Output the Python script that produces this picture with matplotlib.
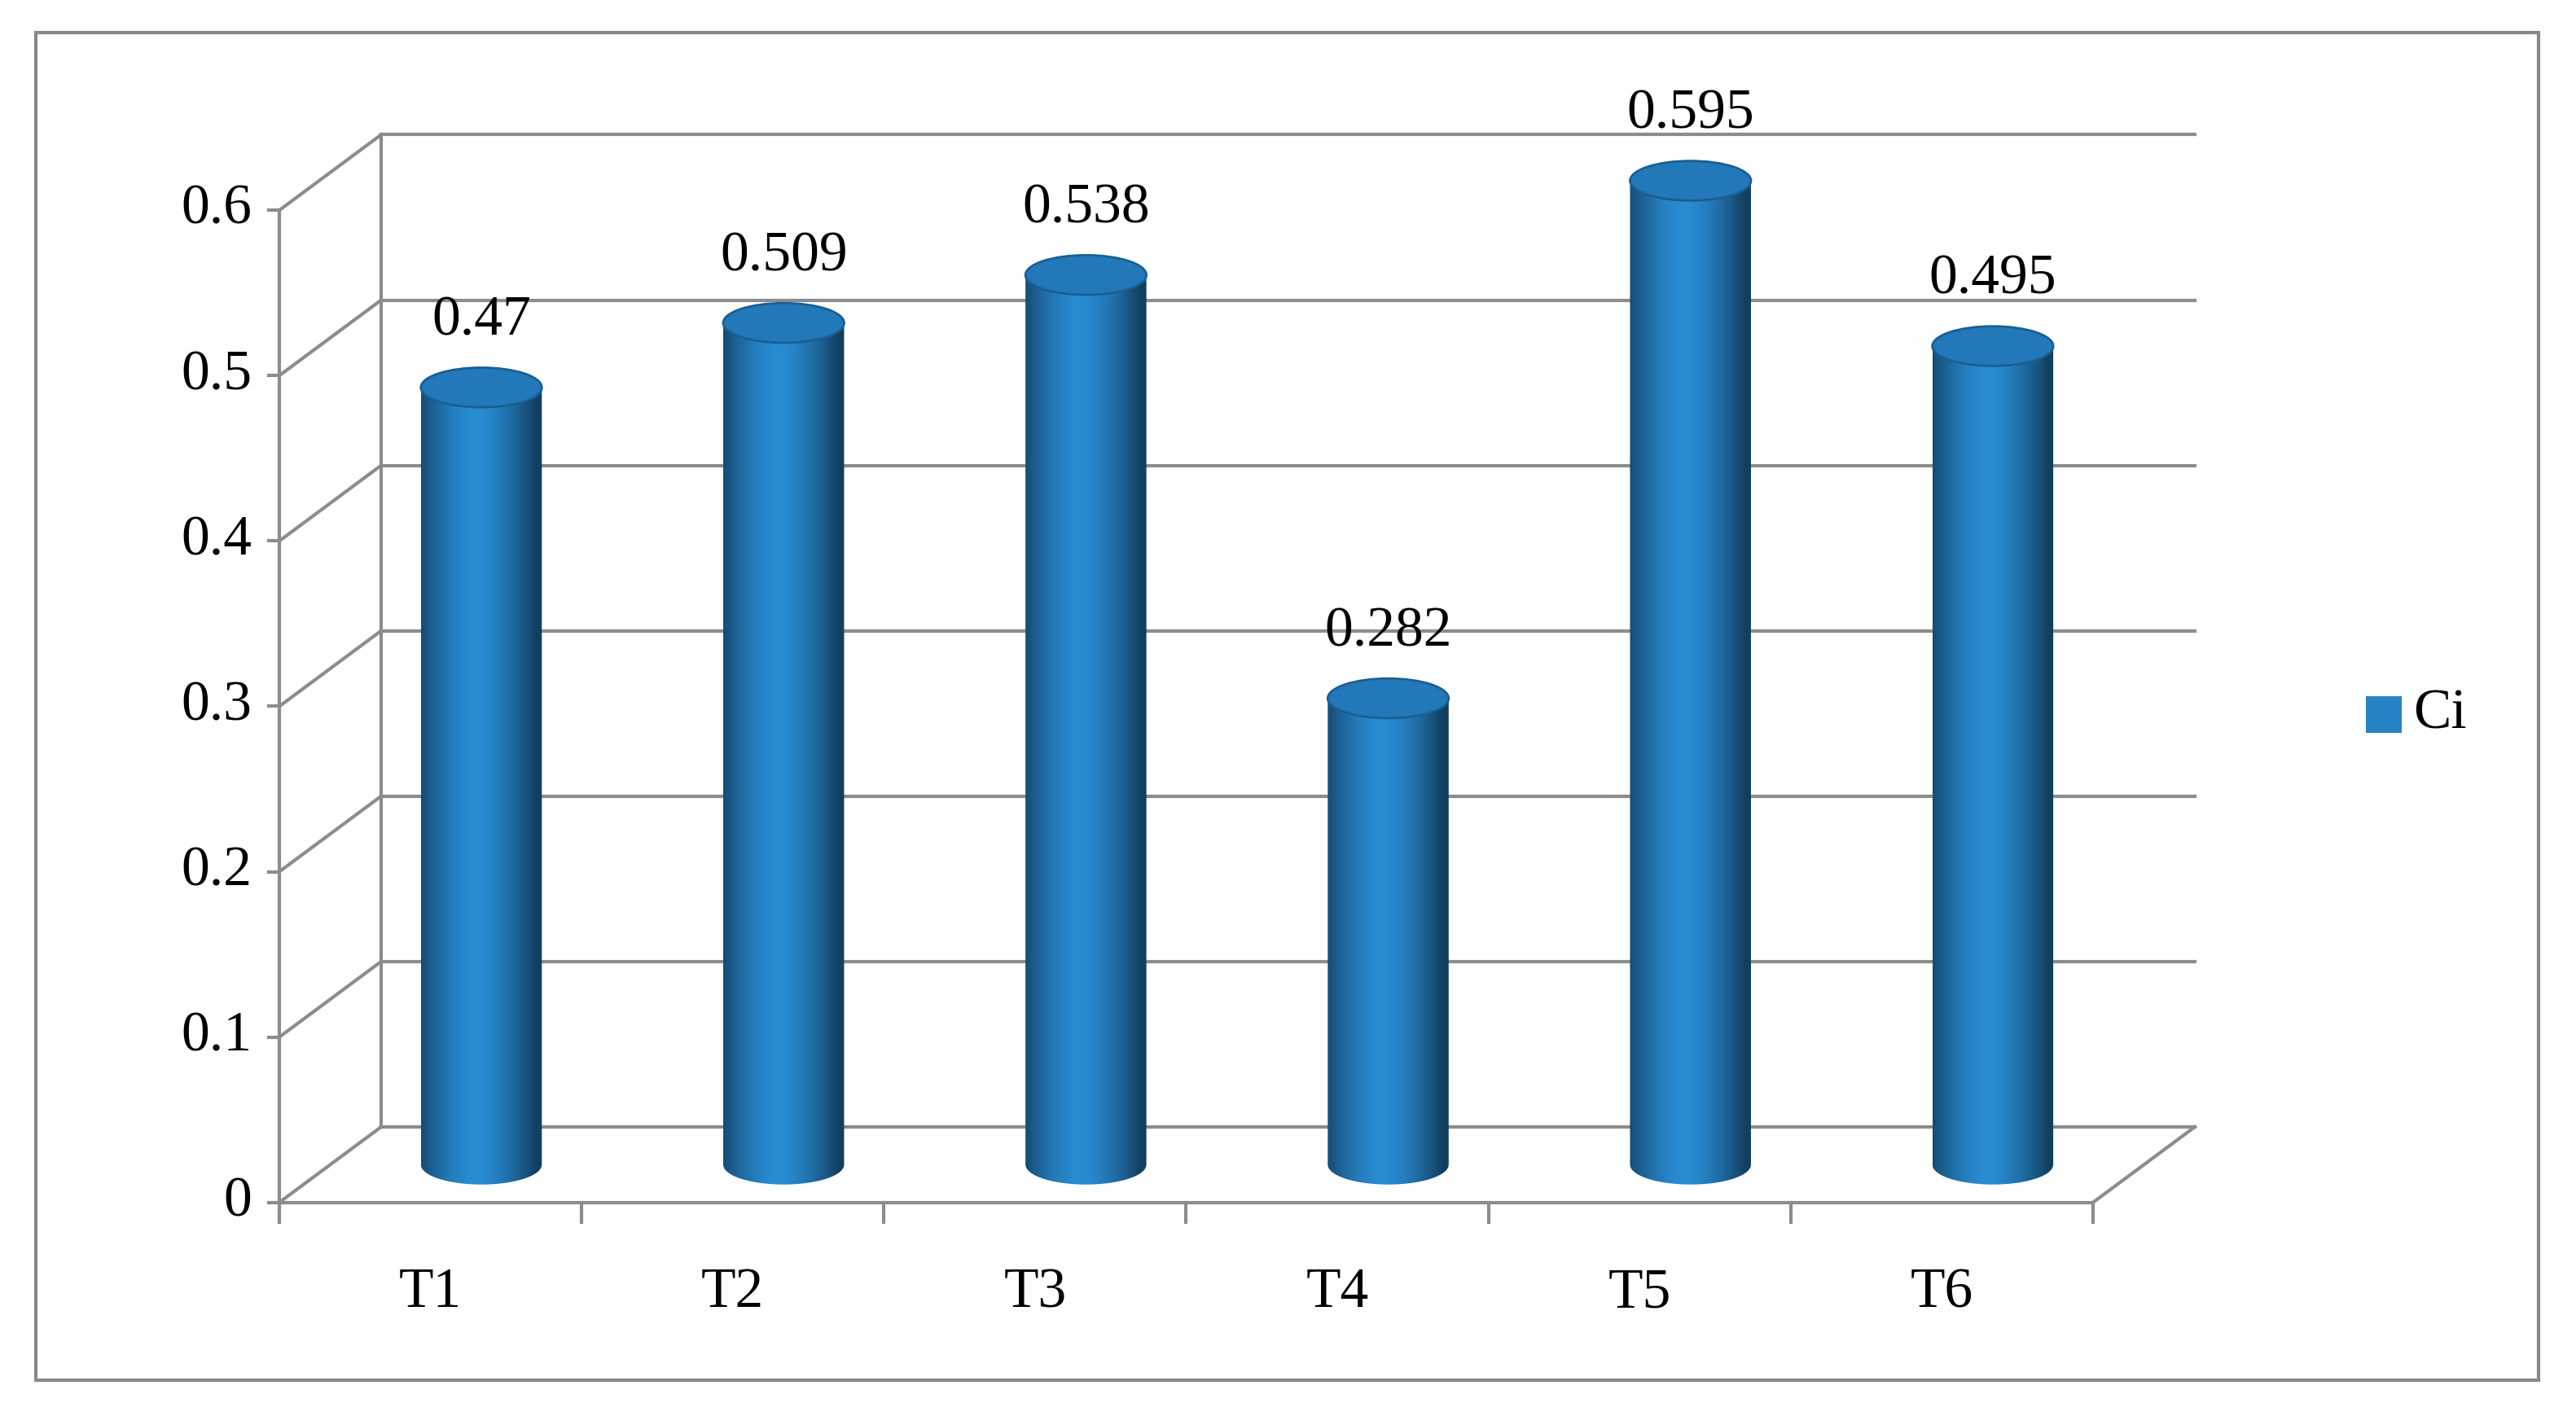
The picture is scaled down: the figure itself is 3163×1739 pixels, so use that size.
import matplotlib
matplotlib.use("Agg")
import matplotlib.pyplot as plt
import numpy as np
from matplotlib.patches import Ellipse, Rectangle, Polygon
from matplotlib.path import Path

categories = ["T1", "T2", "T3", "T4", "T5", "T6"]
values = [0.47, 0.509, 0.538, 0.282, 0.595, 0.495]
yticks = [0, 0.1, 0.2, 0.3, 0.4, 0.5, 0.6]
series_name = "Ci"

W, H = 1568, 862
fig = plt.figure(figsize=(31.63, 17.39), dpi=100)
ax = fig.add_axes([0, 0, 1, 1])
catw = 184.0
vscale = 604 / 0.6
ax.set_xlim(-170 / catw - 0.5, (W - 170) / catw - 0.5)
ax.set_ylim(-(H - 732) / vscale, 732 / vscale)
ax.axis("off")
font = "Liberation Serif"
fs = 50
gc = "#8c8c8c"
lw = 3
dx, dy = 62 / catw, 46 / vscale
n = len(categories)
x0, x1 = -0.5, n - 0.5

# border
fig.patches.append(Rectangle((22 / W, 1 - 840 / H), (1545 - 22) / W, (840 - 20) / H,
                             transform=fig.transFigure, fill=False, ec="#888888", lw=3))
# walls
for v in yticks:
    ax.plot([x0 + dx, x1 + dx], [v + dy, v + dy], color=gc, lw=lw)
    ax.plot([x0, x0 + dx], [v, v + dy], color=gc, lw=lw)
    ax.plot([x0 - 0.035, x0], [v, v], color=gc, lw=lw)
    ax.text(x0 - 0.09, v, f"{v:g}", ha="right", va="center", fontsize=fs, family=font)
ax.plot([x0, x0], [0, yticks[-1]], color=gc, lw=lw)
ax.plot([x0 + dx, x0 + dx], [dy, yticks[-1] + dy], color=gc, lw=lw)
ax.plot([x0, x1], [0, 0], color=gc, lw=lw)
ax.plot([x1, x1 + dx], [0, dy], color=gc, lw=lw)
for i in range(n + 1):
    ax.plot([x0 + i, x0 + i], [0, -0.012], color=gc, lw=lw)
for i, c in enumerate(categories):
    ax.text(i, -0.055, c, ha="center", va="center", fontsize=fs, family=font)

# cylinders
bw = 0.40
eh = 0.024
grad = np.linspace(0, 1, 256)
shade = 1 - 0.75 * np.abs(grad - 0.45) ** 1.6 * 2.2
shade = np.clip(shade, 0.45, 1)
base = np.array([0.16, 0.55, 0.83])
img = (base[None, None, :] * shade[None, :, None]) * np.ones((2, 1, 1))
for i, v in enumerate(values):
    cx = i + dx / 2
    yb = dy / 2
    yt = v + dy / 2
    verts = [(cx - bw / 2, yt), (cx - bw / 2, yb)]
    t = np.linspace(np.pi, 2 * np.pi, 40)
    verts += list(zip(cx + bw / 2 * np.cos(t), yb + eh / 2 * np.sin(t)))
    verts += [(cx + bw / 2, yt), (cx - bw / 2, yt)]
    poly = Polygon(verts, closed=True, fc="none", ec="none")
    ax.add_patch(poly)
    im = ax.imshow(img, extent=[cx - bw / 2, cx + bw / 2, yb - eh, yt], aspect="auto",
                   interpolation="bilinear", zorder=2)
    im.set_clip_path(poly)
    ax.add_patch(Ellipse((cx, yt), bw, eh, fc="#2278b8", ec="#1a5f93", lw=2, zorder=3))
    ax.text(cx, yt + 0.04, f"{v:g}", ha="center", va="center", fontsize=fs, family=font, zorder=4)

ax.set_xlim(-170 / catw - 0.5, (W - 170) / catw - 0.5)
ax.set_ylim(-(H - 732) / vscale, 732 / vscale)

# legend
fig.patches.append(Rectangle((1440 / W, 1 - 446 / H), 22 / W, 22 / H,
                             transform=fig.transFigure, fc="#2683c6", ec="none"))
fig.text(1469 / W, 1 - 435 / H, series_name, ha="left", va="center", fontsize=fs, family=font)

fig.savefig("out.png", dpi=100)
